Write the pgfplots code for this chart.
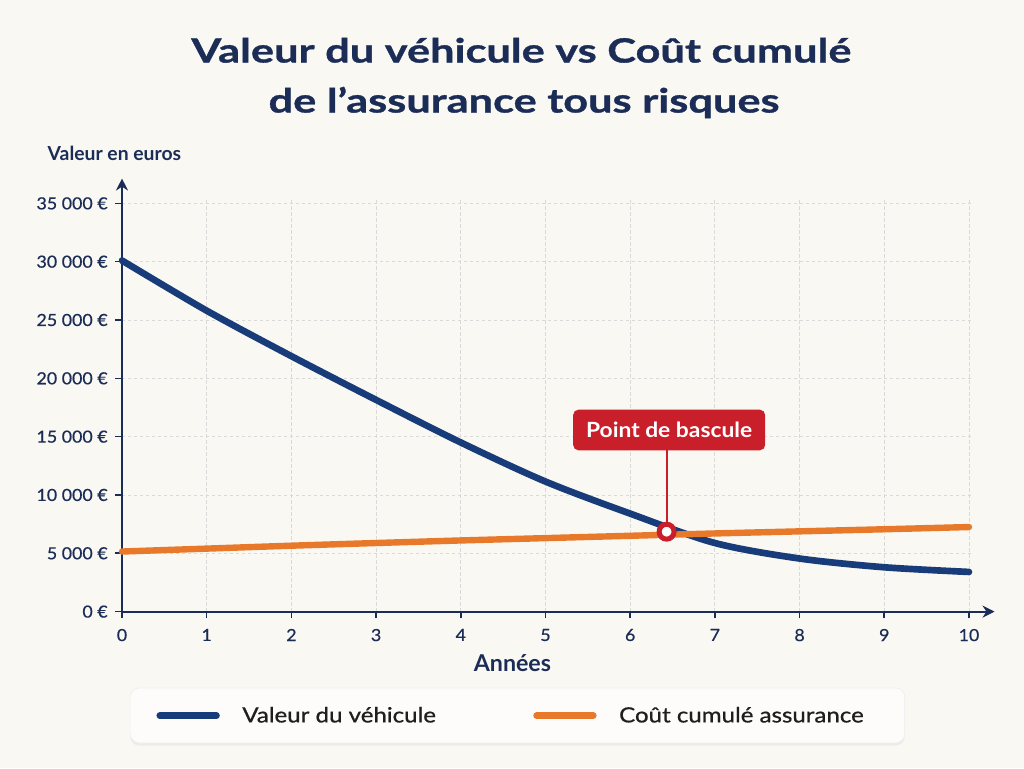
\documentclass[border=0pt]{standalone}
\usepackage{fontspec}
\setmainfont{Lato}
\newfontfamily\titlefont{Lato}[FakeStretch=1.3, FakeBold=1]
\newfontfamily\tickfont{Lato}[FakeStretch=1.07, FakeBold=0.6]
\newfontfamily\legfont{Lato}[FakeStretch=1.15, FakeBold=0.8]
\newfontfamily\boxfont{Lato}[FakeStretch=1.09]
\usepackage{pgfplots}
\pgfplotsset{compat=1.18}
\usetikzlibrary{arrows.meta,shadows}
\definecolor{bg}{HTML}{FAF8F3}
\definecolor{navy}{HTML}{1B2D57}
\definecolor{bluel}{HTML}{183B7A}
\definecolor{orangel}{HTML}{E8792B}
\definecolor{redc}{HTML}{C91F2B}
\definecolor{gridc}{HTML}{DADADA}
\definecolor{legtext}{HTML}{1E1E1E}

\begin{document}
\begin{tikzpicture}
\fill[bg] (0pt,0pt) rectangle (768pt,576pt);
\useasboundingbox (0pt,0pt) rectangle (768pt,576pt);
\node[anchor=base, font=\titlefont\bfseries\fontsize{25}{30}\selectfont, text=navy] at (391pt,529.1pt) {Valeur du véhicule vs Coût cumulé};
\node[anchor=base, font=\titlefont\bfseries\fontsize{25}{30}\selectfont, text=navy] at (393pt,491.6pt) {de l’assurance tous risques};
\node[draw=gridc!45, fill=white!60!bg, rounded corners=7pt, line width=0.5pt,
      drop shadow={opacity=0.10, shadow xshift=0pt, shadow yshift=-2pt},
      minimum width=581pt, minimum height=41.25pt] at (388.1pt,39.4pt) {};
\begin{axis}[
  at={(91.5pt,117.3pt)}, anchor=south west,
  scale only axis, width=638.4pt, height=308.8pt,
  xmin=0, xmax=10.05, ymin=0, ymax=35300,
  scaled y ticks=false,
  clip=false,
  axis lines=left,
  axis line style={navy, line width=1.5pt, -{Stealth[length=9pt,width=9pt]}, shorten >=-16pt},
  xtick={0,1,2,3,4,5,6,7,8,9,10},
  xticklabels={0,1,2,3,4,5,6,7,8,9,10},
  ytick={0,5000,10000,15000,20000,25000,30000,35000},
  yticklabels={0~€,5~000~€,10~000~€,15~000~€,20~000~€,25~000~€,30~000~€,35~000~€},
  tick align=outside,
  major tick length=5pt,
  tick style={navy, line width=1.2pt},
  ticklabel style={font=\tickfont\fontsize{12.5}{15}\selectfont, text=navy},
  xticklabel style={yshift=-4.5pt},
  yticklabel style={xshift=-2.2pt},
  grid=major,
  grid style={gridc, line width=0.6pt, dash pattern=on 2.5pt off 2pt},
  xlabel={Années},
  xlabel style={font=\bfseries\fontsize{17.4}{20}\selectfont, text=navy, at={(axis description cs:0.4587,-0.1455)}, anchor=base},
  ylabel={Valeur en euros},
  ylabel style={font=\bfseries\fontsize{14.5}{17}\selectfont, text=navy, rotate=-90, at={(axis description cs:-0.0928,1.0952)}, anchor=base west},
  legend columns=2,
  legend cell align=left,
  legend image code/.code={\draw[#1, line width=5pt, line cap=round] (0pt,0pt) -- (42.5pt,0pt);},
  legend style={at={(axis description cs:0.0405,-0.2528)}, anchor=west,
    draw=none, fill=none, inner sep=0pt, outer sep=0pt,
    font=\legfont\fontsize{15.7}{18}\selectfont, text=legtext,
    /tikz/every odd column/.append style={column sep=14.9pt},
    /tikz/every even column/.append style={column sep=71pt}},
]
\addplot[bluel, line width=5pt, smooth, line cap=round] coordinates {
(0,30100) (1,25800) (2,21900) (3,18150) (4,14500) (5,11150) (6,8400) (7,5880) (8,4550) (9,3800) (10,3400)};
\addlegendentry{Valeur du véhicule}
\addplot[orangel, line width=4.8pt, smooth, line cap=round] coordinates {
(0,5150) (1,5400) (2,5650) (3,5880) (4,6100) (5,6300) (6,6500) (7,6700) (8,6880) (9,7060) (10,7250)};
\addlegendentry{Coût cumulé assurance}
\addplot[redc, line width=1.5pt, forget plot] coordinates {(6.43,6850) (6.43,15000)};
\addplot[only marks, mark=*, mark size=5.6pt, mark options={fill=white, draw=redc, line width=3.75pt}, forget plot] coordinates {(6.43,6850)};
\node[fill=redc, rounded corners=4pt, text=white, font=\boxfont\bfseries\fontsize{15.7}{18}\selectfont, minimum width=144pt, minimum height=30.5pt, inner sep=0pt] at (axis cs:6.46,15570) {Point de bascule};
\end{axis}
\end{tikzpicture}
\end{document}
